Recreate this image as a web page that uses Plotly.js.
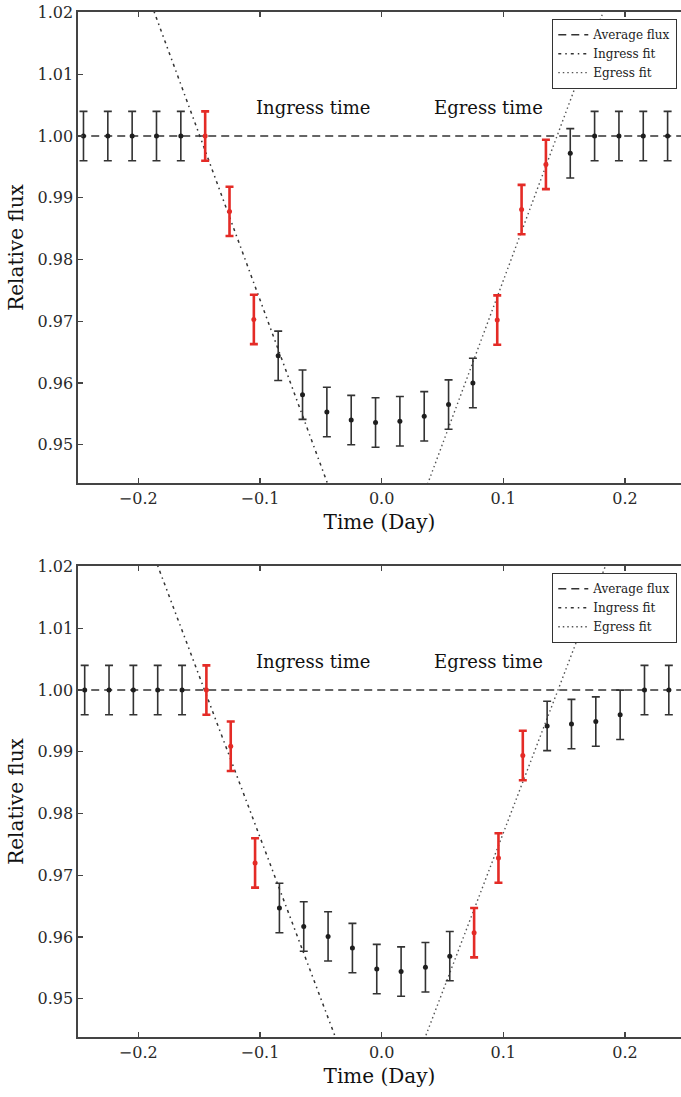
<!DOCTYPE html>
<html>
<head>
<meta charset="utf-8">
<script src="https://cdn.plot.ly/plotly-3.0.1.min.js"></script>
<style>html,body{margin:0;padding:0;background:#fff;}#chart{width:681px;height:1097px;}</style>
</head>
<body>
<div id="chart"></div>
<script>
// ---------- Data ----------
// Top panel
const timeTop = [-0.245,-0.225,-0.205,-0.185,-0.165,-0.145,-0.125,-0.105,-0.085,-0.065,-0.045,-0.025,-0.005,0.015,0.035,0.055,0.075,0.095,0.115,0.135,0.155,0.175,0.195,0.215,0.235];
const fluxTop = [1.000,1.000,1.000,1.000,1.000,1.000,0.9878,0.9703,0.9644,0.9581,0.9553,0.9540,0.9536,0.9538,0.9546,0.9565,0.9600,0.9702,0.9881,0.9954,0.9972,1.000,1.000,1.000,1.000];
const errTop  = [0.004,0.004,0.004,0.004,0.004,0.004,0.004,0.004,0.004,0.004,0.004,0.004,0.004,0.004,0.004,0.004,0.004,0.004,0.004,0.004,0.004,0.004,0.004,0.004,0.004];
const redIdxTop = [5,6,7,17,18,19];
const ingressFitTopTime = [-0.196,-0.037];
const ingressFitTopFlux = [1.025,0.9397];
const egressFitTopTime  = [0.030,0.1913];
const egressFitTopFlux  = [0.9395,1.025];

// Bottom panel
const timeBot = [-0.244,-0.224,-0.204,-0.184,-0.164,-0.144,-0.124,-0.104,-0.084,-0.064,-0.044,-0.024,-0.004,0.016,0.036,0.056,0.076,0.096,0.116,0.136,0.156,0.176,0.196,0.216,0.236];
const fluxBot = [1.000,1.000,1.000,1.000,1.000,1.000,0.9909,0.9720,0.9647,0.9617,0.9601,0.9582,0.9548,0.9544,0.9551,0.9569,0.9607,0.9728,0.9894,0.9942,0.9945,0.9949,0.9960,1.000,1.000];
const errBot  = [0.004,0.004,0.004,0.004,0.004,0.004,0.004,0.004,0.004,0.004,0.004,0.004,0.004,0.004,0.004,0.004,0.004,0.004,0.004,0.004,0.004,0.004,0.004,0.004,0.004];
const redIdxBot = [5,6,7,16,17,18];
const ingressFitBotTime = [-0.1933,-0.0308];
const ingressFitBotFlux = [1.025,0.940];
const egressFitBotTime  = [0.0285,0.1934];
const egressFitBotFlux  = [0.940,1.025];

const avgTime = [-0.26,0.26];
const avgFlux = [1.0,1.0];

const xTicks = [-0.2,-0.1,0.0,0.1,0.2];
const yTicks = [0.95,0.96,0.97,0.98,0.99,1.00,1.01,1.02];
const legendNames = ["Average flux","Ingress fit","Egress fit"];
const labelIngress = {time:-0.0563, flux:1.0047, text:"Ingress time"};
const labelEgress  = {time:0.0882,  flux:1.0047, text:"Egress time"};

// ---------- Build ----------
const SERIF = "DejaVu Serif, serif";
const BLACK = "#1e1e1e";
const RED = "#e42b26";

function split(times, flux, err, redIdx, red){
  const x=[],y=[],e=[];
  times.forEach((t,i)=>{ if(redIdx.includes(i)===red){x.push(t);y.push(flux[i]);e.push(err[i]);} });
  return {x,y,e};
}

function panel(times, flux, err, redIdx, inT, inF, egT, egF, xa, ya, legendId){
  const b = split(times,flux,err,redIdx,false);
  const r = split(times,flux,err,redIdx,true);
  return [
    {x:avgTime,y:avgFlux,xaxis:xa,yaxis:ya,mode:'lines',name:legendNames[0],legend:legendId,
     line:{color:'#333',width:1.5,dash:'8px,5px'}},
    {x:inT,y:inF,xaxis:xa,yaxis:ya,mode:'lines',name:legendNames[1],legend:legendId,
     line:{color:'#333',width:1.5,dash:'3px,4px,1.5px,4px'}},
    {x:egT,y:egF,xaxis:xa,yaxis:ya,mode:'lines',name:legendNames[2],legend:legendId,
     line:{color:'#555',width:1.4,dash:'1.5px,3px'}},
    {x:b.x,y:b.y,xaxis:xa,yaxis:ya,mode:'markers',showlegend:false,
     marker:{color:BLACK,size:5},
     error_y:{type:'data',array:b.e,visible:true,color:'#333',thickness:1.6,width:4}},
    {x:r.x,y:r.y,xaxis:xa,yaxis:ya,mode:'markers',showlegend:false,
     marker:{color:RED,size:5},
     error_y:{type:'data',array:r.e,visible:true,color:RED,thickness:2.6,width:4}}
  ];
}

const data = [
  ...panel(timeTop,fluxTop,errTop,redIdxTop,ingressFitTopTime,ingressFitTopFlux,egressFitTopTime,egressFitTopFlux,'x','y','legend'),
  ...panel(timeBot,fluxBot,errBot,redIdxBot,ingressFitBotTime,ingressFitBotFlux,egressFitBotTime,egressFitBotFlux,'x2','y2','legend2')
];

function xaxis(anchor){
  return {anchor:anchor, range:[-0.2495,0.2460], tickvals:xTicks, tickformat:'.1f',
    showline:true, linecolor:'#444', linewidth:1.6, mirror:'ticks',
    ticks:'inside', ticklen:5, tickcolor:'#444', tickwidth:1.2,
    showgrid:false, zeroline:false,
    tickfont:{family:SERIF,size:16,color:'#2a2a2a'},
    title:{text:'Time (Day)', font:{family:SERIF,size:20,color:'#111'}, standoff:8}};
}
function yaxis(anchor,domain){
  return {anchor:anchor, domain:domain, range:[0.9438,1.0201], tickvals:yTicks, tickformat:'.2f',
    showline:true, linecolor:'#444', linewidth:1.6, mirror:false,
    ticks:'inside', ticklen:5, tickcolor:'#444', tickwidth:1.2,
    showgrid:false, zeroline:false,
    tickfont:{family:SERIF,size:16,color:'#2a2a2a'},
    title:{text:'Relative flux', font:{family:SERIF,size:20,color:'#111'}, standoff:8}};
}
function legendCfg(yTop){
  return {x:0.9935,xanchor:'right',y:yTop,yanchor:'top',bgcolor:'#fff',bordercolor:'#333',borderwidth:1.2,
    font:{family:SERIF,size:12,color:'#222'},tracegroupgap:0,itemwidth:30};
}
function ann(lbl,xr,yr){
  return {x:lbl.time,y:lbl.flux,xref:xr,yref:yr,text:lbl.text,showarrow:false,
    font:{family:SERIF,size:18,color:'#111'}};
}

const layout = {
  width:681,height:1097,
  margin:{l:78,r:0,t:12,b:60},
  paper_bgcolor:'#fff',plot_bgcolor:'#fff',
  xaxis:xaxis('y'), yaxis:yaxis('x',[0.5405,1]),
  xaxis2:xaxis('y2'), yaxis2:yaxis('x2',[0,0.4595]),
  legend:legendCfg(0.9932),
  legend2:legendCfg(0.4527),
  annotations:[ann(labelIngress,'x','y'),ann(labelEgress,'x','y'),ann(labelIngress,'x2','y2'),ann(labelEgress,'x2','y2')],
  showlegend:true
};

Plotly.newPlot('chart',data,layout,{displayModeBar:false,staticPlot:true});
</script>
</body>
</html>
